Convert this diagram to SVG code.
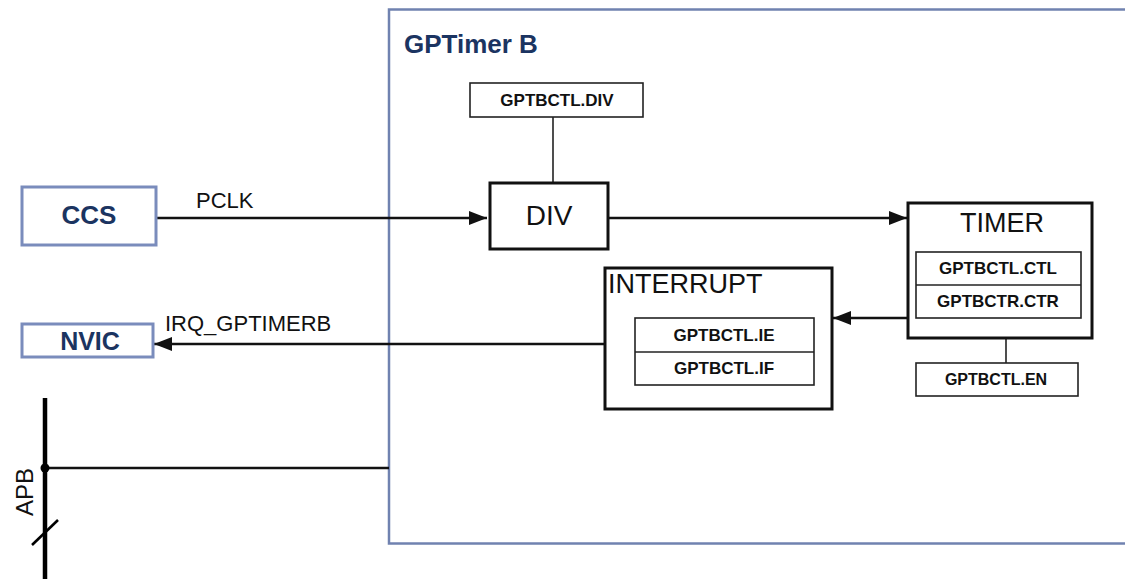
<svg xmlns="http://www.w3.org/2000/svg" width="1125" height="579" viewBox="0 0 1125 579">
<style>
.frame{fill:none;stroke:#7082b0;stroke-width:2.5}
.ext{fill:#fff;stroke:#7a8cbc;stroke-width:3}
.blk{fill:#fff;stroke:#111;stroke-width:3}
.reg{fill:#fff;stroke:#222;stroke-width:1.6}
.ln{fill:none;stroke:#111;stroke-width:2.6}
.thin{fill:none;stroke:#222;stroke-width:1.6}
.ttl{font-family:"Liberation Sans",Arial,sans-serif;font-weight:bold;fill:#1b3461}
.lbl{font-family:"Liberation Sans",Arial,sans-serif;fill:#111}
.regt{font-family:"Liberation Sans",Arial,sans-serif;font-weight:bold;fill:#111;font-size:17px;text-anchor:middle}
</style>
<defs>
<marker id="ah" markerUnits="userSpaceOnUse" markerWidth="20" markerHeight="16" refX="18" refY="7" orient="auto">
<path d="M0,0 L18,7 L0,14 z" fill="#111"/>
</marker>
</defs>
<g id="gptimerb">
<rect class="frame" x="389" y="9.5" width="760" height="534"/>
<text class="ttl" x="404" y="53" font-size="26">GPTimer B</text>
</g>
<g id="connectors">
<line class="ln" x1="156" y1="218" x2="487" y2="218" marker-end="url(#ah)"/>
<text class="lbl" x="196" y="208" font-size="22">PCLK</text>
<line class="ln" x1="608" y1="218" x2="907" y2="218" marker-end="url(#ah)"/>
<line class="ln" x1="908" y1="318" x2="833" y2="318" marker-end="url(#ah)"/>
<line class="ln" x1="605" y1="344" x2="154" y2="344" marker-end="url(#ah)"/>
<text class="lbl" x="165" y="331" font-size="22">IRQ_GPTIMERB</text>
<line class="thin" x1="553" y1="117" x2="553" y2="183"/>
<line class="thin" x1="1006" y1="338" x2="1006" y2="363"/>
<line x1="45" y1="468" x2="389" y2="468" stroke="#111" stroke-width="2.6"/>
</g>
<g id="apb">
<line x1="45" y1="398" x2="45" y2="579" stroke="#000" stroke-width="4.5"/>
<circle cx="45" cy="468" r="4.5" fill="#000"/>
<line x1="32" y1="545" x2="58" y2="520" stroke="#000" stroke-width="2.6"/>
<text class="lbl" font-size="24" text-anchor="middle" transform="translate(33,492) rotate(-90)">APB</text>
</g>
<g id="ccs">
<rect class="ext" x="22" y="187" width="134" height="58"/>
<text class="ttl" x="89" y="224" font-size="26" text-anchor="middle">CCS</text>
</g>
<g id="nvic">
<rect class="ext" x="22" y="324" width="131" height="33"/>
<text class="ttl" x="90" y="350" font-size="25" text-anchor="middle">NVIC</text>
</g>
<g id="gptbctl-div">
<rect class="reg" x="470" y="83" width="173" height="34"/>
<text class="regt" x="557" y="106">GPTBCTL.DIV</text>
</g>
<g id="div">
<rect class="blk" x="490" y="183" width="118" height="66"/>
<text class="lbl" x="549" y="225" font-size="28" text-anchor="middle">DIV</text>
</g>
<g id="timer">
<rect class="blk" x="908" y="203" width="184" height="135"/>
<text class="lbl" x="1002" y="232" font-size="27" text-anchor="middle">TIMER</text>
<rect class="reg" x="916" y="252" width="165" height="66"/>
<line class="thin" x1="916" y1="285" x2="1081" y2="285"/>
<text class="regt" x="998" y="274">GPTBCTL.CTL</text>
<text class="regt" x="998" y="307">GPTBCTR.CTR</text>
</g>
<g id="interrupt">
<rect class="blk" x="605" y="268" width="227" height="141"/>
<text class="lbl" x="608" y="293" font-size="27">INTERRUPT</text>
<rect class="reg" x="635" y="318" width="179" height="67"/>
<line class="thin" x1="635" y1="352" x2="814" y2="352"/>
<text class="regt" x="724" y="341">GPTBCTL.IE</text>
<text class="regt" x="724" y="374">GPTBCTL.IF</text>
</g>
<g id="gptbctl-en">
<rect class="reg" x="916" y="363" width="162" height="33"/>
<text class="regt" x="996" y="385" style="font-size:16px">GPTBCTL.EN</text>
</g>
</svg>
